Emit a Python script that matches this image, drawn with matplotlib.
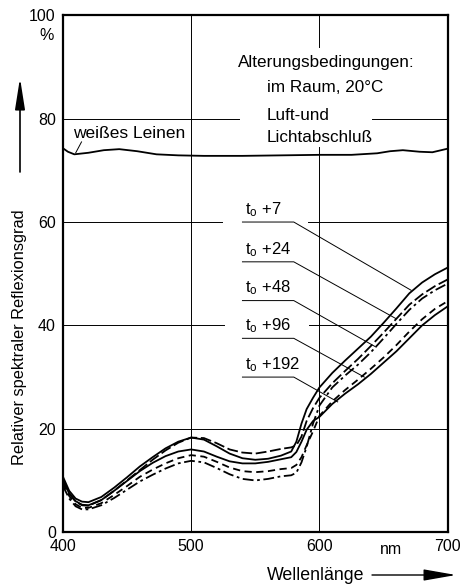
import numpy as np
import matplotlib
matplotlib.use('Agg')
import matplotlib.pyplot as plt

plt.rcParams['font.family'] = ['Liberation Sans', 'DejaVu Sans']
plt.rcParams['mathtext.fontset'] = 'custom'
plt.rcParams['mathtext.rm'] = 'Liberation Sans'

# Wavelengths (nm) at which the curves were read
wl = [400, 405, 410, 415, 420, 430, 440, 450, 460, 470, 480, 490, 500, 510,
      520, 530, 540, 550, 560, 570, 578, 582, 586, 590, 595, 600, 610, 620,
      630, 640, 650, 660, 670, 680, 690, 700]

# Reflectance (%) after ageing t0 + hours
r_7 = [10.8, 8.0, 6.5, 5.9, 5.8, 6.8, 8.6, 10.6, 12.7, 14.5, 16.2, 17.5, 18.3, 17.9,
       16.6, 15.2, 14.3, 14.0, 14.2, 14.8, 15.6, 17.5, 21.0, 23.8, 26.0, 28.0, 30.8, 33.2,
       35.5, 37.8, 40.5, 43.3, 46.2, 48.3, 49.9, 51.2]
r_24 = [10.2, 7.5, 5.9, 5.2, 5.1, 6.2, 8.0, 10.0, 12.0, 14.0, 15.8, 17.3, 18.3, 18.2,
        17.2, 16.0, 15.4, 15.2, 15.6, 16.1, 16.4, 16.8, 18.5, 21.5, 24.0, 26.0, 28.8, 31.2,
        33.5, 36.0, 38.6, 41.3, 44.0, 46.0, 47.6, 48.9]
r_48 = [9.0, 6.5, 5.0, 4.4, 4.4, 5.2, 6.6, 8.2, 9.8, 11.1, 12.3, 13.3, 13.8, 13.5,
        12.4, 11.2, 10.3, 10.0, 10.3, 10.8, 11.0, 11.5, 13.5, 16.5, 21.0, 24.5, 28.0, 30.3,
        32.4, 34.8, 37.5, 40.3, 43.0, 45.2, 46.8, 48.1]
r_96 = [9.5, 7.0, 5.4, 4.7, 4.7, 5.6, 7.2, 8.9, 10.7, 12.1, 13.3, 14.3, 14.9, 14.6,
        13.6, 12.5, 11.8, 11.6, 11.8, 12.2, 12.4, 13.0, 14.5, 16.8, 19.5, 22.5, 25.3, 27.5,
        29.5, 31.6, 33.8, 36.2, 38.8, 41.2, 43.2, 44.7]
r_192 = [10.0, 7.5, 6.0, 5.3, 5.2, 6.2, 8.0, 9.9, 11.8, 13.4, 14.7, 15.6, 16.0, 15.6,
         14.6, 13.7, 13.3, 13.3, 13.6, 14.1, 14.5, 15.5, 17.5, 19.8, 21.5, 22.3, 24.8, 26.8,
         28.6, 30.6, 32.8, 35.0, 37.5, 40.0, 42.0, 43.7]

# White linen reference
wl_linen = [400, 404, 409, 420, 432, 444, 458, 473, 490, 510, 540, 570, 600, 625,
            645, 655, 665, 678, 688, 700]
r_linen = [74.3, 73.6, 73.1, 73.4, 73.9, 74.1, 73.7, 73.1, 72.9, 72.8, 72.8, 72.9, 73.0, 73.0,
           73.3, 73.7, 73.9, 73.6, 73.5, 74.2]

labels = ['+7', '+24', '+48', '+96', '+192']
series = [r_7, r_24, r_48, r_96, r_192]
styles = ['-', (0, (6, 2)), (0, (6, 2, 1.5, 2)), (0, (4, 2.5)), '-']

fig = plt.figure(figsize=(4.65, 5.88), dpi=100)
ax = fig.add_axes([0.135, 0.095, 0.828, 0.879])
ax.set_xlim(400, 700)
ax.set_ylim(0, 100)

# broken grid lines (gaps left for the annotations)
hgrid = {80: [(400, 537.7), (641, 700)], 60: [(400, 523.7), (590.7, 700)],
         40: [(400, 526), (592, 700)], 20: [(400, 700)]}
for yv, segs in hgrid.items():
    for a, b in segs:
        ax.plot([a, b], [yv, yv], color='k', lw=0.7, zorder=1)
ax.plot([500, 500], [0, 100], color='k', lw=0.7, zorder=1)
for a, b in [(0, 74.5), (93.8, 100)]:
    ax.plot([600, 600], [a, b], color='k', lw=0.7, zorder=1)

for r, ls in zip(series, styles):
    ax.plot(wl, r, color='k', lw=1.3, linestyle=ls)
ax.plot(wl_linen, r_linen, color='k', lw=1.3)

for s in ax.spines.values():
    s.set_linewidth(1.6)

ax.set_xticks([400, 500, 600, 700])
ax.set_yticks([0, 20, 40, 60, 80, 100])
ax.tick_params(length=0, labelsize=11.5, pad=5)
ax.text(-0.042, 96.1, '%', transform=ax.get_yaxis_transform(), ha='center', va='center', fontsize=11.5)
ax.text(656, -3.3, 'nm', ha='center', va='center', fontsize=11.5, clip_on=False)

# annotation texts
ax.text(407.8, 77.2, 'weißes Leinen', fontsize=12.5, va='center')
ax.plot([414.6, 410.1], [75.5, 73.4], color='k', lw=0.7)
ax.text(536.2, 90.9, 'Alterungsbedingungen:', fontsize=12.3, va='center')
ax.text(558.8, 86.1, 'im Raum, 20°C', fontsize=12.3, va='center')
ax.text(558.8, 80.7, 'Luft-und', fontsize=12.3, va='center')
ax.text(558.8, 76.4, 'Lichtabschluß', fontsize=12.3, va='center')

under_y = [60.0, 52.3, 44.8, 37.5, 30.0]
ends = [(671.4, 46.8), (659.7, 41.3), (644.1, 35.8), (635.0, 30.0), (614.2, 25.2)]
for lab, uy, (ex, ey) in zip(labels, under_y, ends):
    ax.text(541.6, uy + 0.6, r'$\mathrm{t_o}$ ' + lab, fontsize=12, va='bottom')
    ax.plot([540, 580, ex], [uy, uy, ey], color='k', lw=0.7)

# axis labels with arrows
fig.text(20 / 465, 1 - 337 / 588, 'Relativer spektraler Reflexionsgrad', rotation=90,
         ha='center', va='center', fontsize=11.8)
ax.annotate('', xy=(20 / 465, 1 - 78 / 588), xytext=(20 / 465, 1 - 172 / 588),
            xycoords='figure fraction',
            arrowprops=dict(arrowstyle='-|>,head_length=1.9,head_width=0.3', lw=1.2,
                            color='k', mutation_scale=10, shrinkA=0, shrinkB=0))
fig.text(316 / 465, 1 - 575 / 588, 'Wellenlänge', ha='center', va='center', fontsize=12.8)
ax.annotate('', xy=(456 / 465, 1 - 575 / 588), xytext=(372 / 465, 1 - 575 / 588),
            xycoords='figure fraction',
            arrowprops=dict(arrowstyle='-|>,head_length=2.0,head_width=0.35', lw=1.0,
                            color='k', mutation_scale=10, shrinkA=0, shrinkB=0))

fig.savefig('out.png', dpi=100)
